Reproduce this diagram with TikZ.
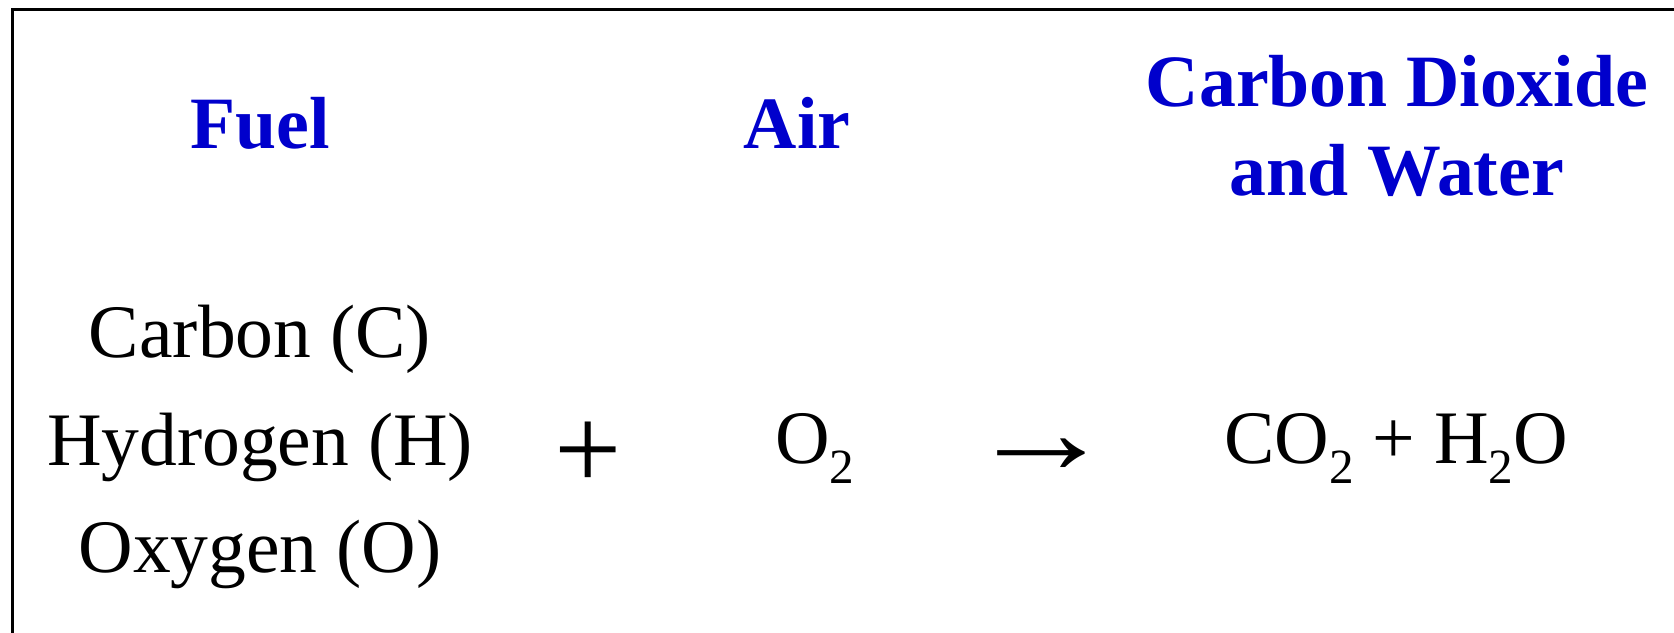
\documentclass[tikz,border=0pt]{standalone}
\usepackage{fontspec}
\setmainfont{Liberation Serif}
\usepackage{xcolor}
\usepackage{tikz}
\usetikzlibrary{positioning}
\definecolor{headblue}{RGB}{0, 0, 204}
\newcommand{\chemsub}[1]{\raisebox{-5.5pt}{\fontsize{14}{14}\selectfont #1}}

\begin{document}
\begin{tikzpicture}[
    heading/.style={text=headblue, font=\fontsize{21}{25.6}\selectfont\bfseries,
                    align=center, inner sep=0pt, anchor=base},
    chem/.style={font=\fontsize{21.5}{30.7}\selectfont, align=center,
                 inner sep=0pt, anchor=base},
    sign/.style={font=\fontsize{34}{34}\selectfont, inner sep=0pt}
]
    \useasboundingbox (0,0) rectangle (16.74,6.33);
    \clip (0,0) rectangle (16.74,6.33);
    % frame, runs off the right and bottom edges
    \draw[line width=0.8pt] (0.123,-0.5) rectangle (17.5,6.237);

    \node[heading] (fuel) at (2.60,4.84) {Fuel};
    \node[heading] (air) at (7.97,4.84) {Air};
    \node[heading] (products) at (13.97,4.37) {Carbon Dioxide\\and Water};

    \node[chem] (elements) at (2.60,0.60) {Carbon (C)\\Hydrogen (H)\\Oxygen (O)};
    \node[sign] (plus) at (5.88,1.77) {+};
    \node[chem] (oxygen) at (8.15,1.69) {O\chemsub{2}};
    \node[sign, font=\fontsize{29}{29}\selectfont] (yields) at (10.41,1.77)
        {\scalebox{1.45}[1.2]{→}};
    \node[chem] (result) at (13.96,1.69) {CO\chemsub{2} + H\chemsub{2}O};
\end{tikzpicture}
\end{document}
